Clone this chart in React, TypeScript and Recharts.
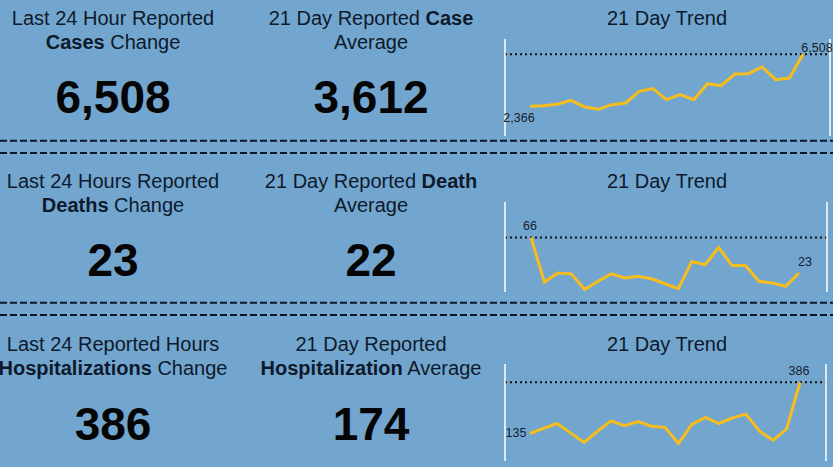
import React from 'react';
import { LineChart, Line, XAxis, YAxis, ReferenceLine, LabelList } from 'recharts';

const DAYS = [1, 2, 3, 4, 5, 6, 7, 8, 9, 10, 11, 12, 13, 14, 15, 16, 17, 18, 19, 20, 21];
const CASES = [2366, 2419, 2525, 2844, 2313, 2127, 2499, 2632, 3561, 3773, 2897, 3295, 2897, 4171, 4012, 4941, 4968, 5499, 4490, 4623, 6508];
const DEATHS = [66, 12, 23, 22, 3, 13, 22, 17, 19, 16, 10, 4, 37, 33, 54, 32, 32, 13, 11, 7, 23];
const HOSPITALIZATIONS = [135, 160, 184, 138, 91, 146, 197, 173, 194, 171, 165, 86, 181, 214, 184, 212, 230, 146, 102, 156, 386];

const CHANGE_VALUES = ['6,508', '23', '386'];
const AVERAGE_VALUES = ['3,612', '22', '174'];
const TREND_TITLE = '21 Day Trend';

const BG = '#73a6cf';
const LINE_COLOR = '#f6bd1c';
const TEXT = '#0e1a2b';
const FONT = '"Liberation Sans", Arial, sans-serif';

type LabelCfg = { dx: number; dy: number; anchor: 'start' | 'middle' | 'end' };

type SparkProps = {
  values: number[];
  top: number;
  height: number;
  mTop: number;
  mBottom: number;
  mRight: number;
  padLeft: number;
  padRight: number;
  domainMax: number;
  first: LabelCfg;
  last: LabelCfg;
};

function Sparkline(p: SparkProps) {
  const data = DAYS.map((d, i) => ({ day: d, v: p.values[i] }));
  const n = data.length;
  const max = Math.max(...p.values);
  const content = (props: any) => {
    const { index, value } = props;
    let x = props.x;
    let y = props.y;
    if (x === undefined && props.viewBox) {
      x = props.viewBox.x;
      y = props.viewBox.y;
    }
    let cfg: LabelCfg | null = null;
    if (index === 0) cfg = p.first;
    if (index === n - 1) cfg = p.last;
    if (!cfg) return null;
    return (
      <text
        x={x + cfg.dx}
        y={y + cfg.dy}
        textAnchor={cfg.anchor}
        fontSize={12.5}
        fontFamily={FONT}
        fill="#16202c"
      >
        {Number(value).toLocaleString('en-US')}
      </text>
    );
  };
  return (
    <div style={{ position: 'absolute', left: 500, top: p.top }}>
      <LineChart
        width={333}
        height={p.height}
        data={data}
        margin={{ top: p.mTop, bottom: p.mBottom, left: 4, right: p.mRight - 1 }}
      >
        <XAxis dataKey="day" hide padding={{ left: p.padLeft, right: p.padRight }} />
        <YAxis
          yAxisId="l"
          orientation="left"
          width={1}
          domain={[0, p.domainMax]}
          tick={false}
          tickLine={false}
          axisLine={{ stroke: '#ffffff', strokeWidth: 1.5 }}
        />
        <YAxis
          yAxisId="r"
          orientation="right"
          width={1}
          domain={[0, p.domainMax]}
          tick={false}
          tickLine={false}
          axisLine={{ stroke: '#ffffff', strokeWidth: 1.5 }}
        />
        <ReferenceLine yAxisId="l" y={max} stroke="#111111" strokeWidth={2} strokeDasharray="2 3" />
        <Line
          yAxisId="l"
          type="linear"
          dataKey="v"
          stroke={LINE_COLOR}
          strokeWidth={3}
          dot={false}
          isAnimationActive={false}
        >
          <LabelList dataKey="v" content={content} />
        </Line>
      </LineChart>
    </div>
  );
}

function TextBlock({ cx, top, children }: { cx: number; top: number; children: React.ReactNode }) {
  return (
    <div
      style={{
        position: 'absolute',
        left: cx - 160,
        width: 320,
        top,
        textAlign: 'center',
        fontSize: 20,
        lineHeight: '24px',
        fontFamily: FONT,
        color: TEXT,
        whiteSpace: 'nowrap',
      }}
    >
      {children}
    </div>
  );
}

function BigNumber({ cx, top, text }: { cx: number; top: number; text: string }) {
  return (
    <div
      style={{
        position: 'absolute',
        left: cx - 160,
        width: 320,
        top,
        textAlign: 'center',
        fontSize: 46,
        lineHeight: '46px',
        fontWeight: 'bold',
        fontFamily: FONT,
        color: '#050505',
        whiteSpace: 'nowrap',
      }}
    >
      {text}
    </div>
  );
}

const C1 = 113;
const C2 = 371;
const C3 = 667;
const TITLE_TOPS = [6.1, 169.4, 331.8];
const NUMBER_TOPS = [74.4, 237.1, 401.1];
const SEPARATORS = [140.7, 153, 302.7, 315];

export default function App() {
  return (
    <div
      style={{
        position: 'absolute',
        left: 0,
        top: 0,
        width: 833,
        height: 467,
        background: BG,
        overflow: 'hidden',
      }}
    >
      {/* Row 1 */}
      <TextBlock cx={C1} top={TITLE_TOPS[0]}>
        Last 24 Hour Reported<br />
        <b>Cases</b> Change
      </TextBlock>
      <TextBlock cx={C2} top={TITLE_TOPS[0]}>
        21 Day Reported <b>Case</b><br />
        Average
      </TextBlock>
      <TextBlock cx={C3} top={TITLE_TOPS[0]}>{TREND_TITLE}</TextBlock>
      <BigNumber cx={C1} top={NUMBER_TOPS[0]} text={CHANGE_VALUES[0]} />
      <BigNumber cx={C2} top={NUMBER_TOPS[0]} text={AVERAGE_VALUES[0]} />

      {/* Row 2 */}
      <TextBlock cx={C1} top={TITLE_TOPS[1]}>
        Last 24 Hours Reported<br />
        <b>Deaths</b> Change
      </TextBlock>
      <TextBlock cx={C2} top={TITLE_TOPS[1]}>
        21 Day Reported <b>Death</b><br />
        Average
      </TextBlock>
      <TextBlock cx={C3} top={TITLE_TOPS[1]}>{TREND_TITLE}</TextBlock>
      <BigNumber cx={C1} top={NUMBER_TOPS[1]} text={CHANGE_VALUES[1]} />
      <BigNumber cx={C2} top={NUMBER_TOPS[1]} text={AVERAGE_VALUES[1]} />

      {/* Row 3 */}
      <TextBlock cx={C1} top={TITLE_TOPS[2]}>
        Last 24 Reported Hours<br />
        <b>Hospitalizations</b> Change
      </TextBlock>
      <TextBlock cx={C2} top={TITLE_TOPS[2]}>
        21 Day Reported<br />
        <b>Hospitalization</b> Average
      </TextBlock>
      <TextBlock cx={C3} top={TITLE_TOPS[2]}>{TREND_TITLE}</TextBlock>
      <BigNumber cx={C1} top={NUMBER_TOPS[2]} text={CHANGE_VALUES[2]} />
      <BigNumber cx={C2} top={NUMBER_TOPS[2]} text={AVERAGE_VALUES[2]} />

      <Sparkline
        values={CASES}
        top={30}
        height={110}
        mTop={9}
        mBottom={4}
        mRight={3}
        padLeft={25}
        padRight={27}
        domainMax={7729}
        first={{ dx: -11, dy: 16, anchor: 'middle' }}
        last={{ dx: 14, dy: -2, anchor: 'middle' }}
      />
      <Sparkline
        values={DEATHS}
        top={195}
        height={100}
        mTop={7}
        mBottom={3}
        mRight={6}
        padLeft={26}
        padRight={28}
        domainMax={109}
        first={{ dx: -1, dy: -8, anchor: 'middle' }}
        last={{ dx: 6, dy: -7, anchor: 'middle' }}
      />
      <Sparkline
        values={HOSPITALIZATIONS}
        top={355}
        height={110}
        mTop={9}
        mBottom={4}
        mRight={7}
        padLeft={25}
        padRight={26}
        domainMax={476}
        first={{ dx: -14, dy: 4, anchor: 'middle' }}
        last={{ dx: -1, dy: -7, anchor: 'middle' }}
      />

      <svg
        width={833}
        height={467}
        style={{ position: 'absolute', left: 0, top: 0, pointerEvents: 'none' }}
      >
        {SEPARATORS.map((y) => (
          <line key={y} x1={0} x2={833} y1={y} y2={y} stroke="#0b1626" strokeWidth={2} strokeDasharray="7 3" />
        ))}
      </svg>
    </div>
  );
}
